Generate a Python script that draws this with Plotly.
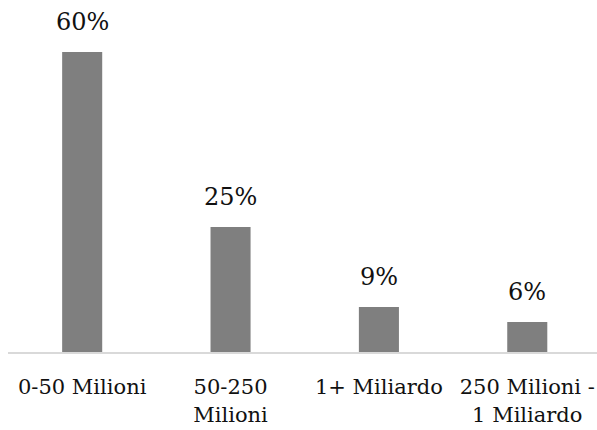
import plotly.graph_objects as go

# Revenue bands and share of companies in each band
categories = ["0-50 Milioni", "50-250<br>Milioni", "1+ Miliardo", "250 Milioni -<br>1 Miliardo"]
shares = [60, 25, 9, 6]

FONT = "DejaVu Serif"
BAR_COLOR = "#7f7f7f"

fig = go.Figure()
fig.add_trace(go.Bar(
    x=categories,
    y=shares,
    width=0.27,
    marker=dict(color=BAR_COLOR, line=dict(width=0)),
    hoverinfo="skip",
))

# Percentage labels above each bar
for cat, val in zip(categories, shares):
    fig.add_annotation(
        x=cat, y=val, text=f"{val}%",
        showarrow=False, yanchor="bottom", xanchor="center",
        yshift=14,
        font=dict(family=FONT, size=24, color="#111111"),
    )

fig.update_layout(
    width=597, height=430,
    margin=dict(l=8, r=0, t=0, b=78),
    paper_bgcolor="white",
    plot_bgcolor="white",
    showlegend=False,
    bargap=0.73,
    font=dict(family=FONT),
)
fig.update_xaxes(
    type="category",
    range=[-0.5, 3.47],
    showline=True, linecolor="#d9d9d9", linewidth=2,
    showgrid=False, ticks="",
    ticklabelstandoff=15,
    tickfont=dict(family=FONT, size=21, color="#111111"),
)
fig.update_yaxes(
    range=[0, 70.4],
    visible=False,
    showgrid=False, zeroline=False,
)

fig.write_html("out.html")
